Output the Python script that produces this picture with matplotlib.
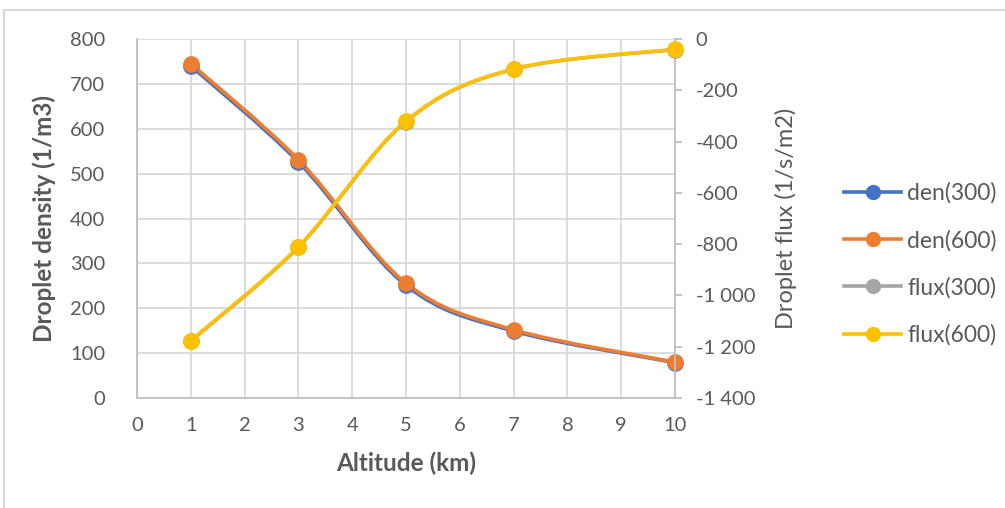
import numpy as np
import matplotlib.pyplot as plt
from matplotlib.path import Path
from matplotlib.patches import PathPatch
from matplotlib.lines import Line2D

plt.rcParams['font.family'] = ['Lato', 'DejaVu Sans']

# altitude (km) and measured series
altitude = [1, 3, 5, 7, 10]
den300 = [740, 526, 251, 149, 79]
den600 = [745, 531, 256, 152, 80]
flux300 = [-1178, -812, -322, -118, -41]
flux600 = [-1176, -810, -320, -117, -40]

grey_txt = '#595959'
grid_col = '#d9d9d9'


def smooth_path(x, y):
    # Bezier path through the points, similar to a spreadsheet "smoothed line"
    x = np.asarray(x, float)
    y = np.asarray(y, float)
    n = len(x)
    verts = [(x[0], y[0])]
    codes = [Path.MOVETO]
    for i in range(n - 1):
        x0, y0 = (x[i - 1], y[i - 1]) if i > 0 else (x[i], y[i])
        x3, y3 = (x[i + 2], y[i + 2]) if i + 2 < n else (x[i + 1], y[i + 1])
        c1 = (x[i] + (x[i + 1] - x0) / 6, y[i] + (y[i + 1] - y0) / 6)
        c2 = (x[i + 1] - (x3 - x[i]) / 6, y[i + 1] - (y3 - y[i]) / 6)
        verts += [c1, c2, (x[i + 1], y[i + 1])]
        codes += [Path.CURVE4] * 3
    return Path(verts, codes)


def draw_series(ax, x, y, color):
    ax.add_patch(PathPatch(smooth_path(x, y), facecolor='none', edgecolor=color,
                           lw=2.6, capstyle='round', joinstyle='round', zorder=3))
    ax.plot(x, y, 'o', color=color, ms=11, zorder=4, clip_on=False)


fig = plt.figure(figsize=(10.05, 5.08), dpi=100)
ax = fig.add_axes([137 / 1005, 1 - 398 / 508, (675 - 137) / 1005, (398 - 39) / 508])
ax2 = ax.twinx()

draw_series(ax, altitude, den300, '#4472c4')
draw_series(ax, altitude, den600, '#ed7d31')
draw_series(ax2, altitude, flux300, '#a5a5a5')
draw_series(ax2, altitude, flux600, '#ffc000')

ax.set_xlim(0, 10)
ax.set_ylim(0, 800)
ax2.set_ylim(-1400, 0)
ax.set_xticks(range(0, 11))
ax.set_yticks(range(0, 801, 100))
ax2.set_yticks(range(-1400, 1, 200))
ax2.set_yticklabels([f'{v:,}'.replace(',', ' ') for v in range(-1400, 1, 200)])

ax.grid(True, color=grid_col, lw=1.3)
ax.set_axisbelow(True)
for a in (ax, ax2):
    for s in a.spines.values():
        s.set_visible(False)
ax.spines['left'].set_visible(True)
ax.spines['bottom'].set_visible(True)
ax2.spines['right'].set_visible(True)
for s in (ax.spines['left'], ax.spines['bottom'], ax2.spines['right']):
    s.set_color('#bfbfbf')
    s.set_linewidth(1.3)

ax.tick_params(axis='y', length=0, labelsize=14.5, labelcolor=grey_txt, pad=23)
ax.tick_params(axis='x', length=0, labelsize=14.5, labelcolor=grey_txt, pad=14)
ax2.tick_params(axis='y', length=5, width=1.3, color='#bfbfbf', labelsize=14.5,
                labelcolor=grey_txt, pad=10)

ax.set_xlabel('Altitude (km)', fontsize=17.5, fontweight='bold', color=grey_txt, labelpad=12)
ax.set_ylabel('Droplet density (1/m3)', fontsize=17.5, fontweight='bold', color=grey_txt, labelpad=10)
ax2.set_ylabel('Droplet flux (1/s/m2)', fontsize=17, color=grey_txt, labelpad=14)

handles = [Line2D([], [], color=c, lw=2.6, marker='o', ms=10)
           for c in ('#4472c4', '#ed7d31', '#a5a5a5', '#ffc000')]
fig.legend(handles, ['den(300)', 'den(600)', 'flux(300)', 'flux(600)'],
           loc='center left', bbox_to_anchor=(833 / 1005, 1 - 264 / 508),
           frameon=False, fontsize=16.5, labelcolor=grey_txt, handlelength=2.45,
           handletextpad=0.3, labelspacing=1.12, borderpad=0)

# thin outer frame lines (top and left)
fig.add_artist(Line2D([4 / 1005, 1], [1 - 10 / 508, 1 - 10 / 508], color='#d9d9d9', lw=1.5))
fig.add_artist(Line2D([4 / 1005, 4 / 1005], [0, 1 - 10 / 508], color='#d9d9d9', lw=1.5))

fig.savefig('out.png', dpi=100, facecolor='white')
